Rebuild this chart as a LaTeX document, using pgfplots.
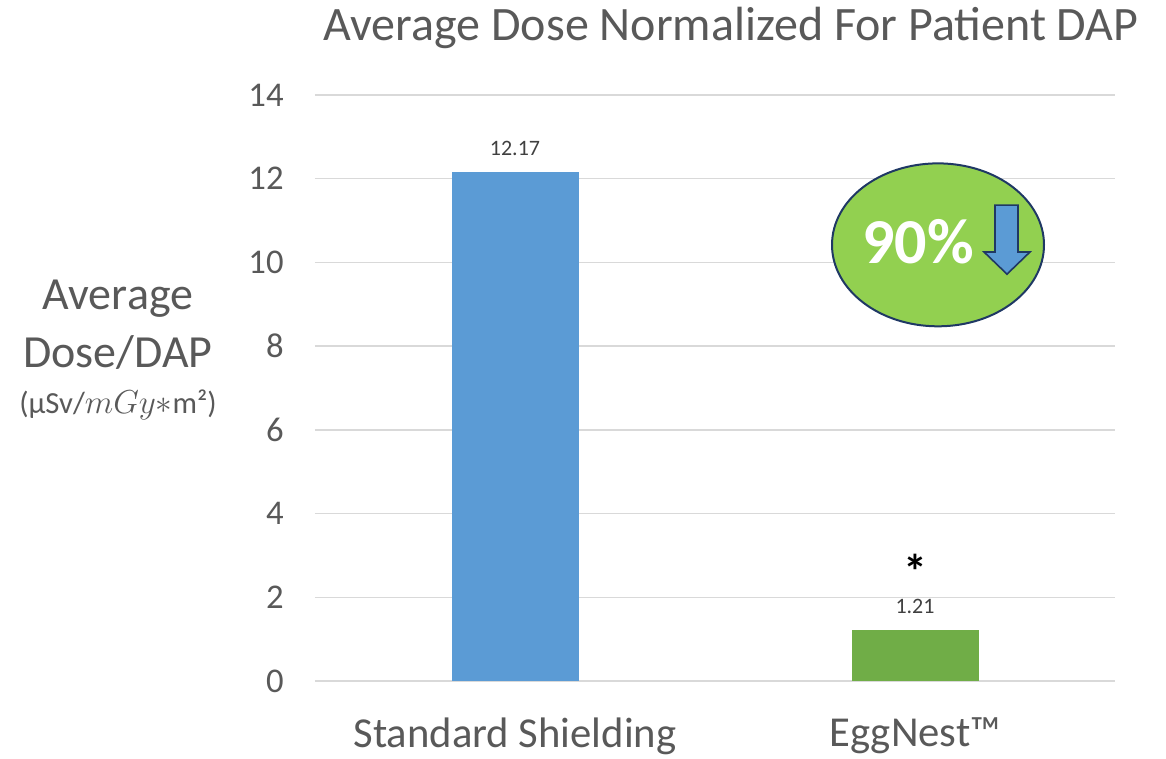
\documentclass[border=0pt]{standalone}
\usepackage{fontspec}
\setmainfont{Carlito}
\usepackage{pgfplots}
\pgfplotsset{compat=1.18}
\definecolor{txtgray}{HTML}{595959}
\definecolor{lblgray}{HTML}{404040}
\definecolor{gridgray}{HTML}{D9D9D9}
\definecolor{barblue}{HTML}{5B9BD5}
\definecolor{bargreen}{HTML}{70AD47}
\definecolor{ellgreen}{HTML}{92D050}
\definecolor{navy}{HTML}{1F3864}
\begin{document}
\begin{tikzpicture}
\path[use as bounding box] (-236.25pt,-57.75pt) rectangle (638.25pt,510.75pt);
\begin{axis}[
  width=600pt, height=439.5pt, scale only axis,
  xmin=-0.5, xmax=1.5, ymin=0, ymax=14,
  ytick={0,2,...,14},
  xtick={0,1}, xticklabels={Standard Shielding, EggNest™},
  axis line style={draw=none},
  ymajorgrids, grid style={gridgray, line width=1pt},
  major tick length=0pt,
  /pgf/number format/assume math mode=true,
  yticklabel style={font=\fontsize{26}{30}\selectfont, text=txtgray, xshift=-20pt},
  xticklabel style={font=\fontsize{32}{38}\selectfont, text=txtgray, yshift=-24pt},
  clip=false,
  ybar, bar width=95.25pt,
  nodes near coords,
  every node near coord/.append style={font=\fontsize{16.5}{20}\selectfont, text=lblgray, yshift=11pt, inner sep=1pt},
  every axis y label/.style={at={(rel axis cs:0,0.565)}, anchor=center, xshift=-147.75pt, align=center, text=txtgray, font=\fontsize{34.5}{43.5}\selectfont},
  ylabel={Average\\Dose/DAP\\[-9pt]{\fontsize{23}{27}\selectfont (µSv/$mGy{\ast}$m²)}},
]
\draw[gridgray, line width=1pt] (axis cs:-0.5,0) -- (axis cs:1.5,0);
\addplot[fill=barblue, draw=none, bar shift=0pt] coordinates {(0,12.17)};
\addplot[fill=bargreen, draw=none, bar shift=0pt] coordinates {(1,1.21)};
\node[font=\bfseries\fontsize{36}{40}\selectfont, inner sep=0pt] at (axis cs:1,2.62) {*};
\draw[fill=ellgreen, draw=navy, line width=1.5pt] (axis cs:1.0575,10.42) ellipse [x radius=79.5pt, y radius=61.1pt];
\node[font=\bfseries\fontsize{48}{56}\selectfont, text=white] at (axis cs:1.0075,10.5) {90\%};
\draw[fill=barblue, draw=navy, line width=1.2pt]
  (axis cs:1.2,11.37) -- (axis cs:1.2575,11.37) -- (axis cs:1.2575,10.25) -- (axis cs:1.2875,10.25)
  -- (axis cs:1.23,9.72) -- (axis cs:1.1725,10.25) -- (axis cs:1.2,10.25) -- cycle;
\end{axis}
\node[font=\fontsize{36}{42}\selectfont, text=txtgray] at (312pt,490pt) {Average Dose Normalized For Patient DAP};
\end{tikzpicture}
\end{document}
